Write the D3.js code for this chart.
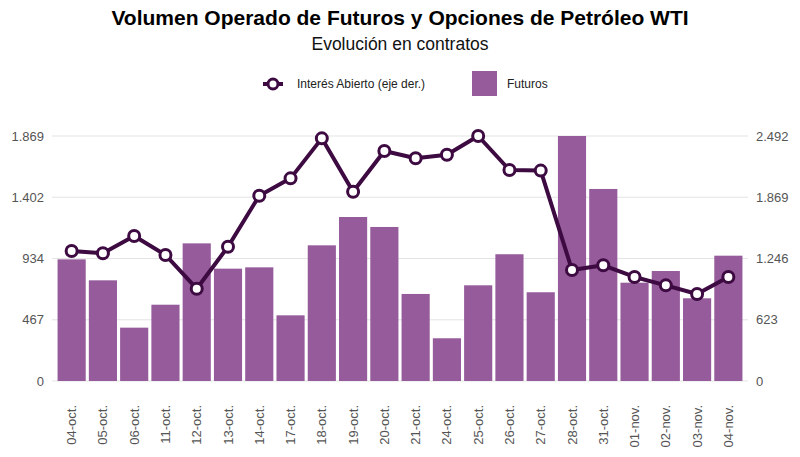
<!DOCTYPE html>
<html>
<head>
<meta charset="utf-8">
<script src="https://cdn.jsdelivr.net/npm/d3@7"></script>
<style>
body{margin:0;background:#fff;font-family:"Liberation Sans",Arial,sans-serif}
</style>
</head>
<body>
<div id="chart"></div>
<script>

// DATA

const fechas = ["04-oct.","05-oct.","06-oct.","11-oct.","12-oct.","13-oct.","14-oct.","17-oct.","18-oct.","19-oct.","20-oct.","21-oct.","24-oct.","25-oct.","26-oct.","27-oct.","28-oct.","31-oct.","01-nov.","02-nov.","03-nov.","04-nov."]

const futuros = [928,768,407,582,1050,857,867,501,1035,1251,1175,664,326,730,967,677,1869,1465,750,839,631,956]

const interesAbierto = [1322,1299,1475,1282,939,1366,1885,2061,2468,1925,2339,2265,2302,2492,2146,2140,1129,1177,1058,973,885,1058]

const ticksIzq = [0,467,934,1402,1869]
const ticksDer = [0,623,1246,1869,2492]


// SETUP

const width = 800
const height = 457
const margin = {top:136,right:56,bottom:76,left:56}

const svg = d3.select("#chart")
.append("svg")
.attr("width",width)
.attr("height",height)

const fmt = v=>d3.format(",")(v).replace(/,/g,".")

const x = d3.scaleBand()
.domain(fechas)
.range([margin.left,width-margin.right])
.paddingInner(0.1)
.paddingOuter(0.05)

const yIzq = d3.scaleLinear()
.domain([0,1869])
.range([height-margin.bottom,margin.top])

const yDer = d3.scaleLinear()
.domain([0,2492])
.range([height-margin.bottom,margin.top])


// TITLES

svg.append("text")
.attr("x",400)
.attr("y",25)
.attr("text-anchor","middle")
.attr("font-size",21)
.attr("font-weight","bold")
.attr("fill","#000")
.text("Volumen Operado de Futuros y Opciones de Petróleo WTI")

svg.append("text")
.attr("x",400)
.attr("y",50)
.attr("text-anchor","middle")
.attr("font-size",17.5)
.attr("fill","#111")
.text("Evolución en contratos")


// LEGEND

const leg = svg.append("g")

leg.append("line")
.attr("x1",263).attr("x2",283)
.attr("y1",84).attr("y2",84)
.attr("stroke","#3d0a41")
.attr("stroke-width",4)

leg.append("circle")
.attr("cx",273).attr("cy",84).attr("r",5)
.attr("fill","#fff")
.attr("stroke","#3d0a41")
.attr("stroke-width",3)

leg.append("text")
.attr("x",297).attr("y",88)
.attr("font-size",12)
.attr("fill","#222")
.text("Interés Abierto (eje der.)")

leg.append("rect")
.attr("x",472).attr("y",71)
.attr("width",25).attr("height",25)
.attr("fill","#955b9b")

leg.append("text")
.attr("x",507).attr("y",88)
.attr("font-size",12)
.attr("fill","#222")
.text("Futuros")


// GRID

svg.append("g")
.selectAll("line")
.data(ticksIzq)
.enter()
.append("line")
.attr("x1",52)
.attr("x2",748)
.attr("y1",d=>yIzq(d))
.attr("y2",d=>yIzq(d))
.attr("stroke","#e3e3e3")
.attr("stroke-width",1)


// AXES

const axL = svg.append("g")
.attr("transform",`translate(46,0)`)
.call(d3.axisLeft(yIzq).tickValues(ticksIzq).tickFormat(fmt).tickSize(0).tickPadding(2))
axL.select(".domain").remove()
axL.selectAll("text").attr("font-size",13).attr("fill","#555").attr("font-family","Liberation Sans, Arial, sans-serif")

const axR = svg.append("g")
.attr("transform",`translate(754,0)`)
.call(d3.axisRight(yDer).tickValues(ticksDer).tickFormat(fmt).tickSize(0).tickPadding(2))
axR.select(".domain").remove()
axR.selectAll("text").attr("font-size",13).attr("fill","#555").attr("font-family","Liberation Sans, Arial, sans-serif")

const axX = svg.append("g")
.attr("transform",`translate(0,${height-margin.bottom})`)
.call(d3.axisBottom(x).tickSize(0))
axX.select(".domain").remove()
axX.selectAll("text")
.attr("font-size",13)
.attr("fill","#555")
.attr("font-family","Liberation Sans, Arial, sans-serif")
.attr("transform","rotate(-90)")
.attr("text-anchor","end")
.attr("dx","-24")
.attr("dy","0.35em")
.attr("y",0)


// BARS

svg.append("g")
.selectAll("rect")
.data(futuros)
.enter()
.append("rect")
.attr("x",(d,i)=>x(fechas[i]))
.attr("y",d=>yIzq(d))
.attr("width",x.bandwidth())
.attr("height",d=>yIzq(0)-yIzq(d))
.attr("fill","#955b9b")


// LINE

const line = d3.line()
.x((d,i)=>x(fechas[i])+x.bandwidth()/2)
.y(d=>yDer(d))

svg.append("path")
.datum(interesAbierto)
.attr("fill","none")
.attr("stroke","#3d0a41")
.attr("stroke-width",4)
.attr("stroke-linejoin","round")
.attr("d",line)

svg.append("g")
.selectAll("circle")
.data(interesAbierto)
.enter()
.append("circle")
.attr("cx",(d,i)=>x(fechas[i])+x.bandwidth()/2)
.attr("cy",d=>yDer(d))
.attr("r",5.5)
.attr("fill","#fff")
.attr("stroke","#3d0a41")
.attr("stroke-width",3)

</script>
</body>
</html>
